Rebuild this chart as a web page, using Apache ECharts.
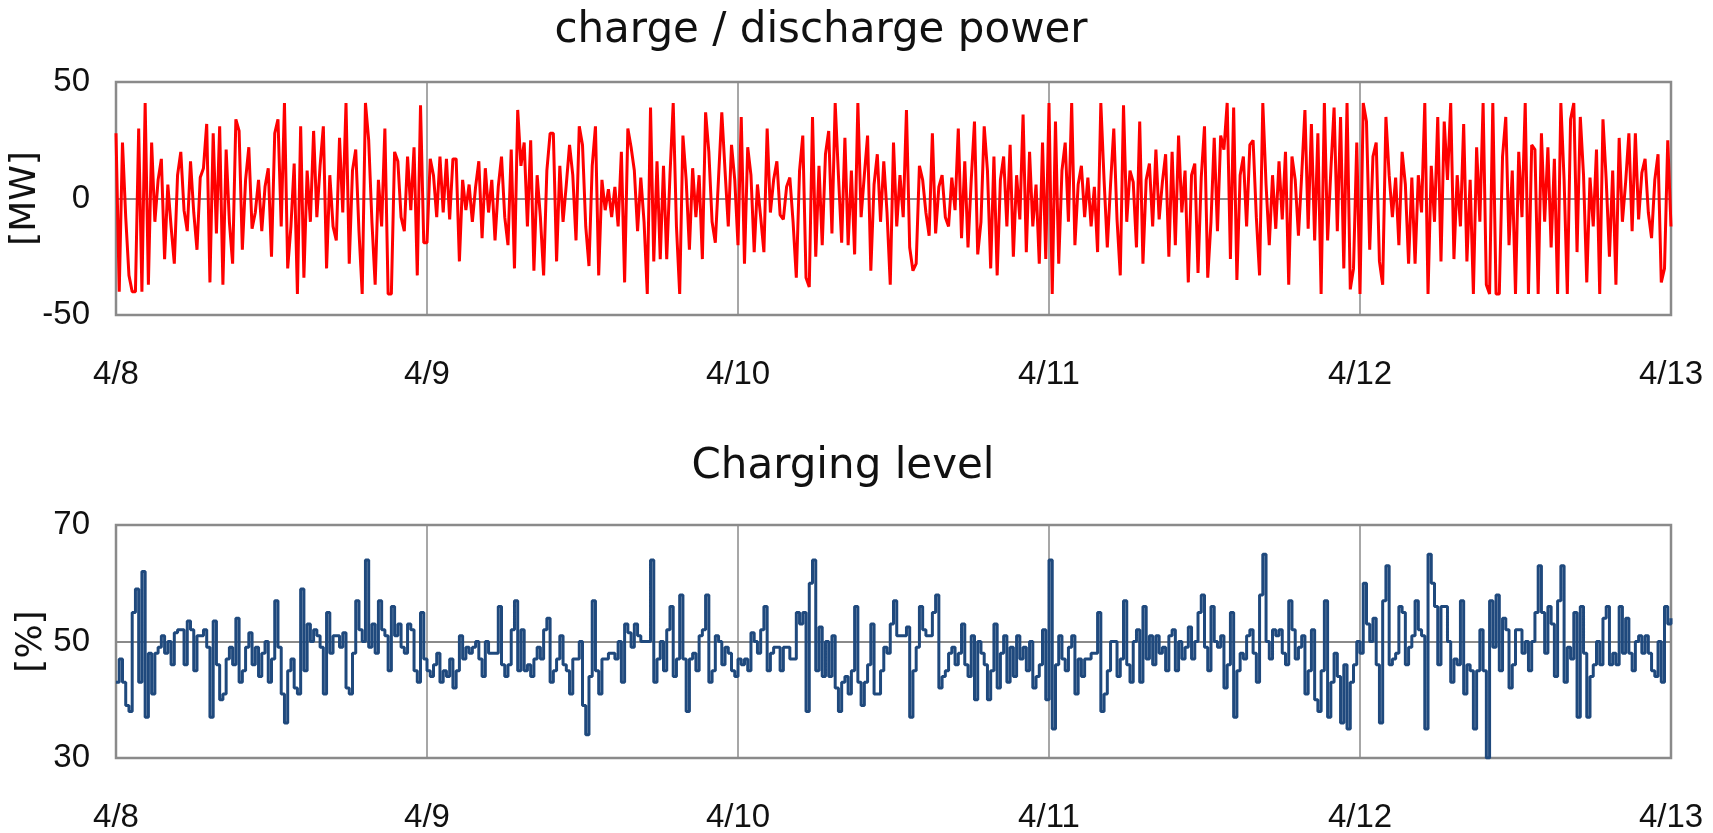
<!DOCTYPE html>
<html>
<head>
<meta charset="utf-8">
<script src="https://cdn.jsdelivr.net/npm/echarts@6/dist/echarts.min.js"></script>
<style>
html,body{margin:0;padding:0;background:#fff;}
#chart{width:1713px;height:833px;}
</style>
</head>
<body>
<div id="chart"></div>
<script>
// tick labels (one per day boundary, x in hours from 4/8 00:00)
const dayTicks = ['4/8','4/9','4/10','4/11','4/12','4/13'];
const titles = ['charge / discharge power', 'Charging level'];
const yNames = ['[MW]', '[%]'];
const stepHours = 0.25; // 15-minute samples

// charge / discharge power [MW], 96 samples per day
const power_0408 = [
28,-40,24,-8,-33,-40,-40,30,-40,41,-37,24,
-10,8,17,-26,6,-12,-28,10,20,-5,-14,16,
-6,-22,9,13,32,-36,28,-15,31,-37,21,-10,
-28,34,29,-22,8,22,-13,-6,8,-14,5,13,
-25,28,34,-12,41,-30,-12,15,-41,31,-34,12,
-10,29,-8,14,31,-30,10,-12,-18,26,-6,41,
-28,12,21,-14,-41,41,25,-10,-37,8,-12,30,
-41,-41,20,16,-8,-14,18,-5,22,-33,40,-19];
const power_0409 = [
-19,17,10,-8,18,-6,17,-9,17,17,-27,8,
-5,6,-10,5,16,-17,13,-6,8,-18,5,18,
-8,-20,21,-30,38,14,24,-12,25,-31,10,-8,
-33,12,28,28,-27,14,-10,6,23,10,-18,31,
23,-12,-29,14,31,-33,8,-5,4,-8,5,-12,
20,-36,30,22,12,-14,9,-10,-41,39,-27,16,
-26,14,-26,10,41,-12,-41,27,8,-22,13,-8,
10,-26,37,20,-10,-19,9,37,12,-12,23,8];
const power_0410 = [
-20,35,-28,22,10,-23,6,-8,-23,30,-6,8,
16,-7,-9,5,9,-10,-34,12,27,-34,-38,35,
-25,14,-20,19,29,-15,41,10,-19,26,-20,12,
-24,41,-8,10,27,-31,6,19,-10,16,-6,-37,
24,-12,10,-8,38,-21,-31,-28,14,8,-6,-16,
28,-15,5,10,-8,-12,9,-5,30,-17,16,-21,
8,33,-24,-10,31,12,-30,18,-33,8,18,-12,
23,-25,10,-9,36,-23,20,-12,6,-28,24,-26];
const power_0411 = [
41,-41,33,-28,12,24,-10,41,-20,6,14,-8,
9,-12,5,-23,41,8,-21,6,30,-9,-33,40,
-10,12,7,-21,33,-28,8,15,-12,21,-9,7,
19,-25,20,-20,27,-6,12,-36,10,15,-32,9,
31,-34,-10,26,-14,27,21,41,-26,39,-35,10,
18,-12,23,25,-8,-33,41,6,-20,10,-13,16,
-9,20,-37,18,8,-16,10,38,-13,32,-18,28,
-41,41,-18,12,39,-14,35,-30,41,-39,-30,24];
const power_0412 = [
-41,41,33,-22,18,24,-27,-37,35,10,-8,9,
-20,20,6,-28,9,-28,10,-6,41,-41,14,-10,
35,-27,33,8,41,-26,10,-12,32,-27,8,-41,
22,-10,41,-37,-41,41,-41,-41,18,35,-20,12,
-41,20,-8,41,-41,23,21,-41,28,-10,22,-21,
17,-41,41,8,-41,34,41,-23,35,10,-36,9,
-12,21,-41,34,8,-25,12,-37,26,-10,7,28,
-14,28,-9,11,17,-6,-17,8,19,-36,-30,25];
const power_0413 = [-12];

// charging level [%], 96 samples per day
const level_0408 = [
43,47,43,39,38,55,59,43,62,37,48,41,
48,49,51,48,50,46,51.5,52,52,46,53.5,52,
45,51,51,52,49,37,53.5,46,40,41,47,49,
46,54,43,45,49,51.5,46,49,44,48,50,43,
47,57,49,41,36,45,47,42,41,59,45,53,
50,52,51,49,41,55,48,51,51,49,51.5,42,
41,48,57,52,50,64,49,53,48,57,52,51,
45,56,51,53,49,48,53,52,45,43,55,47];
const level_0409 = [
45,44,46,48,43,45,44,47,42,45,51,47,
49,48,49,50,47,44,50,48,48,48,56,46,
44,46,52,57,45,52,45,46,44,47,49,47,
52,54,43,45,47,51,46,45,41,47,47,50,
39,34,44,57,45,41,47,47,48,48,47,50,
43,53,51.5,49,53,51,50,50,50,64,43,47,
50,45,52,56,44,47,58,47,38,47,48,45,
51,52,58,43,45,51,50,46,49,48,45,44];
const level_0410 = [
47,46,47,45,51.5,50,48,52,56,45,48,49,
49,45,49,49,47,47,55,53,55,38,60,64,
45,52.5,44,50,44,51,42,38,43,44,41,45,
56,43,39,43,46,53,41,41,45,49,48,53,
57,51,51,51,52.5,37,45,49,56,52,51,51,
55,58,42,44,45,48,49,46,48,53,46,44,
51,40,50,48,46,40,45,53,42,48,51,43,
49,44,51,47,49,45,50,42,44,46,52,40];
const level_0411 = [
64,35,46,51,47,45,49,51,41,47,44,47,
47,48,48,55,38,41,45,50,50,44,47,57,
46,43,50,52,43,56,47,51,46,51,48,49,
45,51,52,45,50,47,49,52.5,47,50,55,58,
49,45,56,50,49,51,42,46,55,37,45,48,
47,51,52,48,43,58,65,50,47,52,51,52,
48,46,57,52,47,49,51,41,45,52,40,38,
45,57,37,43,48,44,36,46,35,43,46,50];
const level_0412 = [
48,60,53,50,54,46,36,57,63,46,47,48,
56,55,46,49,51,57,52,51,35,65,60,56,
46,56,56,50,43,47,46,57,41,46,45,35,
45,52,45,30,57,49,58,45,54,52,42,46,
52,52,48,50,45,50,55,63,55,48,56,53,
44,57,63,43,49,47,55,37,56,48,37,44,
46,50,46,54,56,46,48,46,56,48,54,48,
45,50,51,48,51,48,45,44,50,43,56,53];
const level_0413 = [54];

const power = [].concat(power_0408, power_0409, power_0410, power_0411, power_0412, power_0413);
const level = [].concat(level_0408, level_0409, level_0410, level_0411, level_0412, level_0413);
const powerData = power.map((v, i) => [i * stepHours, v]);
const levelData = level.map((v, i) => [i * stepHours, v]);

const gridColor = '#8a8a8a';
const tickFont = "'Liberation Sans', Arial, sans-serif";
const titleFont = "'DejaVu Sans', Verdana, sans-serif";

function xAxis(gridIndex) {
  return {
    type: 'value', gridIndex: gridIndex, min: 0, max: 120, interval: 24,
    axisLine: { show: false }, axisTick: { show: false },
    splitLine: { show: true, lineStyle: { color: gridColor, width: 1.5 } },
    axisLabel: {
      margin: 43, fontSize: 33, color: '#111', fontFamily: tickFont,
      formatter: v => dayTicks[Math.round(v / 24)]
    }
  };
}
function yAxis(gridIndex, min, max, interval, name, gap) {
  return {
    type: 'value', gridIndex: gridIndex, min: min, max: max, interval: interval,
    name: name, nameLocation: 'middle', nameRotate: 90, nameGap: gap, nameMoveOverlap: false,
    nameTextStyle: { fontSize: 36, color: '#111', fontFamily: titleFont },
    axisLine: { show: false }, axisTick: { show: false },
    splitLine: { show: true, lineStyle: { color: gridColor, width: 2 } },
    axisLabel: { margin: 26, fontSize: 33, color: '#111', fontFamily: tickFont }
  };
}

const chart = echarts.init(document.getElementById('chart'), null, { renderer: 'canvas' });
chart.setOption({
  animation: false,
  backgroundColor: '#fff',
  title: [
    { text: titles[0], left: 816, top: 5, textAlign: 'center',
      textStyle: { fontSize: 42, fontWeight: 'normal', color: '#111', fontFamily: titleFont } },
    { text: titles[1], left: 838, top: 441, textAlign: 'center',
      textStyle: { fontSize: 42, fontWeight: 'normal', color: '#111', fontFamily: titleFont } }
  ],
  grid: [
    { left: 116, top: 82, width: 1555, height: 233, show: true, borderColor: gridColor, borderWidth: 2.5,
      backgroundColor: 'transparent', containLabel: false, outerBoundsMode: 'none' },
    { left: 116, top: 525, width: 1555, height: 233, show: true, borderColor: gridColor, borderWidth: 2.5,
      backgroundColor: 'transparent', containLabel: false, outerBoundsMode: 'none' }
  ],
  xAxis: [xAxis(0), xAxis(1)],
  yAxis: [yAxis(0, -50, 50, 50, yNames[0], 72), yAxis(1, 30, 70, 20, yNames[1], 66)],
  series: [
    { type: 'line', xAxisIndex: 0, yAxisIndex: 0, data: powerData, showSymbol: false,
      lineStyle: { color: '#ff0000', width: 3 }, itemStyle: { color: '#ff0000' } },
    { type: 'line', xAxisIndex: 1, yAxisIndex: 1, data: levelData, showSymbol: false, step: 'end',
      lineStyle: { color: '#1f497d', width: 3 }, itemStyle: { color: '#1f497d' } }
  ]
});
</script>
</body>
</html>
